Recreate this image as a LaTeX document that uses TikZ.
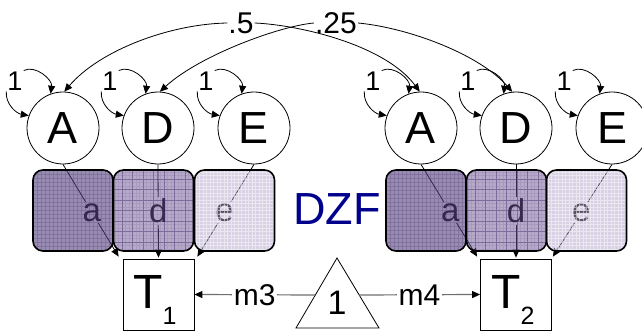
\documentclass[tikz,border=0pt]{standalone}
\usepackage{fontspec}
\setmainfont{Liberation Sans}
\usetikzlibrary{arrows.meta,calc}
\definecolor{navyc}{RGB}{0,0,140}
\definecolor{boxA}{RGB}{85,64,128}
\definecolor{boxD}{RGB}{110,83,150}
\definecolor{boxE}{RGB}{177,161,201}
\definecolor{gridc}{RGB}{60,40,100}
\definecolor{mline}{RGB}{110,110,110}
\begin{document}
\begin{tikzpicture}[x=1pt,y=-1pt,
  lat/.style={circle,draw,line width=0.8pt,minimum size=72pt,inner sep=0pt,font=\fontsize{45}{45}\selectfont},
  one/.style={inner sep=1pt,font=\fontsize{27}{27}\selectfont},
  toplbl/.style={inner sep=1pt,font=\fontsize{30}{30}\selectfont},
  arr/.style={line width=0.8pt,-{Triangle[length=8pt,width=7pt]}},
  lbl/.style={fill=white,inner sep=1.5pt,font=\fontsize{33}{33}\selectfont},
  mlbl/.style={fill=white,inner sep=1.5pt,text=black,font=\fontsize{30}{30}\selectfont},
  marr/.style={mline,line width=1.2pt,-{Triangle[length=8pt,width=7pt,black]}},
  tb/.style={draw,line width=0.8pt,minimum width=71pt,minimum height=71pt,inner sep=0pt},
  tlbl/.style={anchor=base,inner sep=0pt,font=\fontsize{48}{48}\selectfont},
  ubox/.style={draw=black,line width=1.6pt,rounded corners=10pt,minimum width=80pt,minimum height=81pt,inner sep=0pt},
  boxa/.style={ubox,fill=boxA,fill opacity=0.6,
    path picture={\draw[gridc,line width=0.5pt,draw opacity=0.25,step=4pt] (path picture bounding box.south west) grid (path picture bounding box.north east);}},
  boxd/.style={ubox,fill=boxD,fill opacity=0.5,
    path picture={\draw[gridc,line width=0.4pt,draw opacity=0.12,step=3.5pt] (path picture bounding box.south west) grid (path picture bounding box.north east);
                  \draw[gridc,line width=0.9pt,draw opacity=0.4,step=10.5pt] (path picture bounding box.south west) grid (path picture bounding box.north east);}},
  boxe/.style={ubox,fill=boxE,fill opacity=0.5,
    path picture={\draw[white,line width=0.9pt,draw opacity=0.5,step=3.5pt] (path picture bounding box.south west) grid (path picture bounding box.north east);}},
]
\useasboundingbox (0,0) rectangle (642,331);

% latent circles with variance arrows
\foreach \n/\t/\x in {A1/A/63, D1/D/158, E1/E/254, A2/A/421, D2/D/516, E2/E/612} {
  \node[lat] (\n) at (\x,128) {\t};
  \node[one] (o\n) at (\x-48,81) {1};
  \draw[arr] (o\n.north east) .. controls +(12,-6) and +(2,-14) .. (\n.110);
  \draw[arr] (o\n.south west) .. controls +(-1,13) and +(-12,-2) .. (\n.160);
}

% correlation labels and curves
\node[toplbl] (h5) at (241,23) {.5};
\node[toplbl] (h25) at (336,23) {.25};
\draw[arr] (h5.west) .. controls (170,24) and (100,50) .. (A1.88);
\draw[arr] (h5.east) .. controls (300,25) and (385,45) .. (A2.92);
\draw[arr] (h25.west) .. controls (280,26) and (200,55) .. (D1.87);
\draw[arr] (h25.east) .. controls (410,28) and (480,55) .. (D2.96);

% observed boxes
\node[tb] (T1) at (158.5,294.5) {};
\node[tb] (T2) at (516,294.5) {};
\node[tlbl] (T1t) at (155,308) {T\raisebox{-16pt}{\fontsize{25}{25}\selectfont 1}};
\node[tlbl] (T2t) at (513,308) {T\raisebox{-16pt}{\fontsize{25}{25}\selectfont 2}};

% paths from latents to observed
\draw[arr] (A1.south) -- node[lbl,pos=.52] {a} ($(T1.north west)+(-4,-2)$);
\draw[arr] (D1.south) -- node[lbl,pos=.5] {d} ($(T1.north)+(0,-1)$);
\draw[arr] (E1.south) -- node[lbl,pos=.52] {e} ($(T1.north east)+(3,-2)$);
\draw[arr] (A2.south) -- node[lbl,pos=.52] {a} ($(T2.north west)+(-3,-2)$);
\draw[arr] (D2.south) -- node[lbl,pos=.5] {d} ($(T2.north)+(0,-1)$);
\draw[arr] (E2.south) -- node[lbl,pos=.52] {e} ($(T2.north east)+(1,-2)$);

% shaded path boxes
\node[boxa] (ba1) at (73,210.5) {};
\node[boxd] (bd1) at (153.5,210.5) {};
\node[boxe] (be1) at (234.5,210.5) {};
\node[boxa] (ba2) at (426,210.5) {};
\node[boxd] (bd2) at (506.5,210.5) {};
\node[boxe] (be2) at (586.5,210.5) {};

\node[anchor=base,inner sep=0pt,text=navyc,font=\fontsize{45}{45}\selectfont] (dzf) at (337,224) {DZF};

% means triangle
\draw[line width=0.8pt] (337,258) -- (379,328) -- (296,328) -- cycle;
\node[anchor=base,inner sep=0pt,font=\fontsize{34}{34}\selectfont] (c1) at (337,314) {1};
\coordinate (tL) at (315,295);
\coordinate (tR) at (359,295);
\draw[marr] (tL) -- node[mlbl] {m3} (T1.east);
\draw[marr] (tR) -- node[mlbl] {m4} (T2.west);
\end{tikzpicture}
\end{document}
